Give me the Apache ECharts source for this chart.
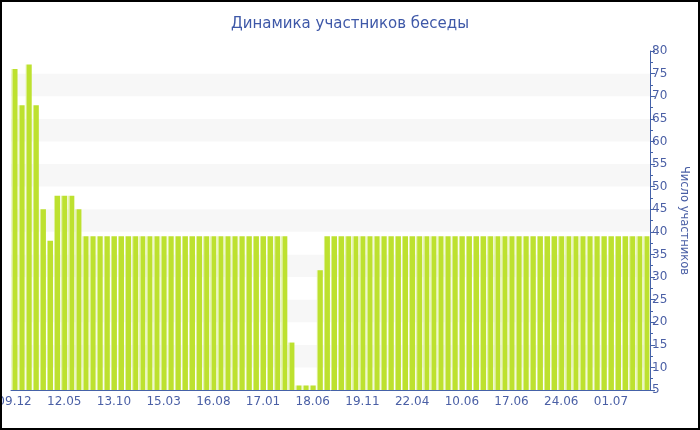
<!DOCTYPE html>
<html>
<head>
<meta charset="utf-8">
<script src="https://cdn.jsdelivr.net/npm/echarts@6/dist/echarts.min.js"></script>
<style>
html,body{margin:0;padding:0;background:#fff;}
#c{width:700px;height:430px;}
</style>
</head>
<body>
<div id="c"></div>
<script>
// Tick labels shown every 7th bar
const tickLabels = ["09.12","12.05","13.10","15.03","16.08","17.01","18.06","19.11","22.04","10.06","17.06","24.06","01.07"];
// Participants per bar (90 bars)
const participants = [
  76, 68, 77, 68, 45, 38, 48, 48, 48, 45,
  39, 39, 39, 39, 39, 39, 39, 39, 39, 39,
  39, 39, 39, 39, 39, 39, 39, 39, 39, 39,
  39, 39, 39, 39, 39, 39, 39, 39, 39, 15.5,
  6, 6, 6, 31.5, 39, 39, 39, 39, 39, 39,
  39, 39, 39, 39, 39, 39, 39, 39, 39, 39,
  39, 39, 39, 39, 39, 39, 39, 39, 39, 39,
  39, 39, 39, 39, 39, 39, 39, 39, 39, 39,
  39, 39, 39, 39, 39, 39, 39, 39, 39, 39
];
const categories = participants.map((v, i) => (i % 7 === 0 && tickLabels[i / 7] !== undefined) ? tickLabels[i / 7] : "");
const titleText = "Динамика участников беседы";
const yName = "Число участников";

const blue = "#4a5fa5";
const chart = echarts.init(document.getElementById('c'), null, {renderer: 'canvas'});
chart.setOption({
  animation: false,
  backgroundColor: '#fff',
  title: {
    text: titleText,
    left: 'center',
    top: 12,
    textStyle: {fontFamily: 'DejaVu Sans', fontSize: 15, fontWeight: 'normal', color: '#3e58a8'}
  },
  grid: {left: 11, right: 50, top: 51, bottom: 40, containLabel: false, outerBoundsMode: 'none'},
  xAxis: {
    type: 'category',
    data: categories,
    boundaryGap: true,
    axisLine: {lineStyle: {color: '#4562a8', width: 1}},
    axisTick: {alignWithLabel: true, interval: 6, length: 4, lineStyle: {color: '#4562a8'}},
    axisLabel: {interval: 6, color: blue, fontFamily: 'DejaVu Sans', fontSize: 12, margin: 6, hideOverlap: false},
    splitLine: {show: false}
  },
  yAxis: {
    type: 'value',
    position: 'right',
    min: 5, max: 80, interval: 5,
    name: yName,
    nameLocation: 'middle',
    nameRotate: -90,
    nameGap: 28,
    nameTextStyle: {color: blue, fontFamily: 'DejaVu Sans', fontSize: 11.5},
    axisLine: {show: true, lineStyle: {color: '#4562a8'}},
    axisTick: {show: true, length: 5, lineStyle: {color: '#4562a8'}},
    minorTick: {show: true, splitNumber: 2, length: 3, lineStyle: {color: '#4562a8'}},
    axisLabel: {color: blue, fontFamily: 'DejaVu Sans', fontSize: 12, margin: 2},
    splitLine: {show: false},
    splitArea: {show: true, areaStyle: {color: ['#ffffff', '#f7f7f7']}}
  },
  series: [{
    type: 'bar',
    data: participants,
    barCategoryGap: '16%',
    itemStyle: {
      color: new echarts.graphic.LinearGradient(0, 0, 1, 0, [
        {offset: 0, color: '#d9ee8a'},
        {offset: 0.2, color: '#d9ee8a'},
        {offset: 0.21, color: '#bde12f'},
        {offset: 1, color: '#bde12f'}
      ])
    }
  }],
  graphic: [{
    type: 'rect',
    silent: true,
    z: 100,
    shape: {x: 1, y: 1, width: 698, height: 428},
    style: {fill: 'none', stroke: '#000', lineWidth: 2}
  }]
});
</script>
</body>
</html>
